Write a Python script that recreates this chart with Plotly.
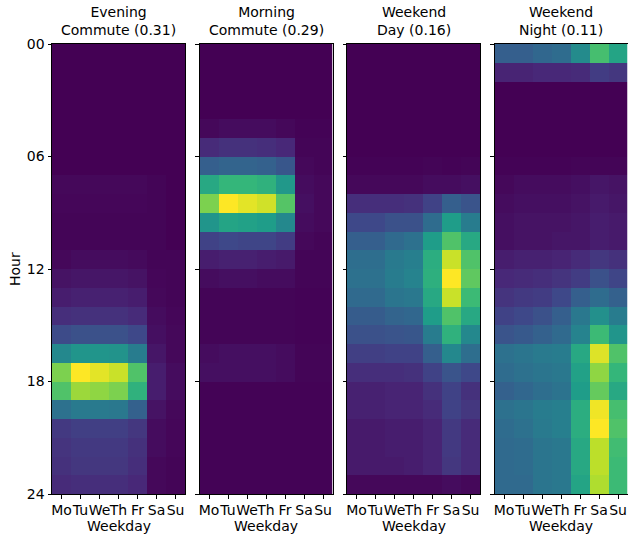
import plotly.graph_objects as go

days = ["Mo", "Tu", "We", "Th", "Fr", "Sa", "Su"]
hour_ticks = [0, 6, 12, 18, 24]
hour_labels = ["00", "06", "12", "18", "24"]
titles = ["Evening<br>Commute (0.31)", "Morning<br>Commute (0.29)",
          "Weekend<br>Day (0.16)", "Weekend<br>Night (0.11)"]

# rows = hours 0..23, columns = Mo..Su
evening = [
    [0.00, 0.00, 0.00, 0.00, 0.00, 0.00, 0.00],
    [0.00, 0.00, 0.00, 0.00, 0.00, 0.00, 0.00],
    [0.00, 0.00, 0.00, 0.00, 0.00, 0.00, 0.00],
    [0.00, 0.00, 0.00, 0.00, 0.00, 0.00, 0.00],
    [0.00, 0.00, 0.00, 0.00, 0.00, 0.00, 0.00],
    [0.00, 0.00, 0.00, 0.00, 0.00, 0.00, 0.00],
    [0.00, 0.00, 0.00, 0.00, 0.00, 0.00, 0.00],
    [0.02, 0.02, 0.02, 0.02, 0.02, 0.01, 0.00],
    [0.015, 0.015, 0.015, 0.015, 0.015, 0.01, 0.00],
    [0.01, 0.01, 0.01, 0.01, 0.01, 0.01, 0.00],
    [0.01, 0.01, 0.01, 0.01, 0.01, 0.01, 0.00],
    [0.02, 0.03, 0.03, 0.03, 0.025, 0.01, 0.01],
    [0.05, 0.06, 0.06, 0.06, 0.05, 0.015, 0.01],
    [0.08, 0.09, 0.09, 0.09, 0.08, 0.02, 0.01],
    [0.13, 0.14, 0.14, 0.14, 0.12, 0.03, 0.015],
    [0.23, 0.25, 0.25, 0.25, 0.22, 0.04, 0.02],
    [0.47, 0.52, 0.52, 0.51, 0.42, 0.06, 0.02],
    [0.80, 1.00, 0.96, 0.92, 0.72, 0.08, 0.03],
    [0.72, 0.85, 0.83, 0.80, 0.64, 0.08, 0.03],
    [0.37, 0.41, 0.41, 0.40, 0.31, 0.05, 0.02],
    [0.17, 0.19, 0.19, 0.19, 0.16, 0.03, 0.015],
    [0.15, 0.17, 0.17, 0.17, 0.14, 0.03, 0.015],
    [0.14, 0.16, 0.16, 0.16, 0.13, 0.02, 0.01],
    [0.12, 0.13, 0.13, 0.13, 0.11, 0.02, 0.01],
]

morning = [
    [0.00, 0.00, 0.00, 0.00, 0.00, 0.00, 0.00],
    [0.00, 0.00, 0.00, 0.00, 0.00, 0.00, 0.00],
    [0.00, 0.00, 0.00, 0.00, 0.00, 0.00, 0.00],
    [0.00, 0.00, 0.00, 0.00, 0.00, 0.00, 0.00],
    [0.02, 0.03, 0.03, 0.03, 0.02, 0.005, 0.005],
    [0.12, 0.14, 0.14, 0.13, 0.11, 0.01, 0.01],
    [0.30, 0.32, 0.32, 0.31, 0.27, 0.02, 0.01],
    [0.60, 0.66, 0.66, 0.64, 0.53, 0.03, 0.02],
    [0.80, 1.00, 0.96, 0.93, 0.73, 0.04, 0.02],
    [0.52, 0.58, 0.57, 0.55, 0.47, 0.03, 0.02],
    [0.20, 0.22, 0.21, 0.21, 0.18, 0.02, 0.01],
    [0.08, 0.09, 0.09, 0.08, 0.07, 0.01, 0.01],
    [0.03, 0.04, 0.04, 0.03, 0.03, 0.01, 0.01],
    [0.01, 0.01, 0.01, 0.01, 0.01, 0.005, 0.005],
    [0.01, 0.01, 0.01, 0.01, 0.01, 0.005, 0.005],
    [0.01, 0.01, 0.01, 0.01, 0.01, 0.005, 0.005],
    [0.03, 0.04, 0.04, 0.04, 0.03, 0.01, 0.01],
    [0.04, 0.04, 0.04, 0.04, 0.03, 0.01, 0.01],
    [0.005, 0.005, 0.005, 0.005, 0.005, 0.005, 0.005],
    [0.005, 0.005, 0.005, 0.005, 0.005, 0.005, 0.005],
    [0.005, 0.005, 0.005, 0.005, 0.005, 0.005, 0.005],
    [0.005, 0.005, 0.005, 0.005, 0.005, 0.005, 0.005],
    [0.005, 0.005, 0.005, 0.005, 0.005, 0.005, 0.005],
    [0.005, 0.005, 0.005, 0.005, 0.005, 0.005, 0.005],
]

weekend_day = [
    [0.00, 0.00, 0.00, 0.00, 0.00, 0.00, 0.00],
    [0.00, 0.00, 0.00, 0.00, 0.00, 0.00, 0.00],
    [0.00, 0.00, 0.00, 0.00, 0.00, 0.00, 0.00],
    [0.00, 0.00, 0.00, 0.00, 0.00, 0.00, 0.00],
    [0.00, 0.00, 0.00, 0.00, 0.00, 0.00, 0.00],
    [0.00, 0.00, 0.00, 0.00, 0.00, 0.00, 0.00],
    [0.005, 0.005, 0.005, 0.005, 0.01, 0.005, 0.01],
    [0.02, 0.02, 0.02, 0.02, 0.03, 0.03, 0.04],
    [0.13, 0.13, 0.13, 0.14, 0.20, 0.30, 0.26],
    [0.22, 0.22, 0.25, 0.25, 0.35, 0.55, 0.42],
    [0.30, 0.30, 0.34, 0.37, 0.55, 0.72, 0.60],
    [0.36, 0.36, 0.41, 0.43, 0.62, 0.92, 0.72],
    [0.37, 0.37, 0.42, 0.45, 0.63, 1.00, 0.75],
    [0.34, 0.34, 0.39, 0.40, 0.60, 0.92, 0.68],
    [0.29, 0.29, 0.32, 0.33, 0.55, 0.72, 0.60],
    [0.25, 0.25, 0.26, 0.27, 0.42, 0.64, 0.47],
    [0.19, 0.19, 0.20, 0.20, 0.30, 0.47, 0.36],
    [0.13, 0.13, 0.13, 0.14, 0.20, 0.26, 0.22],
    [0.09, 0.09, 0.10, 0.10, 0.14, 0.20, 0.14],
    [0.09, 0.09, 0.10, 0.10, 0.12, 0.20, 0.16],
    [0.07, 0.07, 0.08, 0.08, 0.10, 0.17, 0.12],
    [0.07, 0.07, 0.08, 0.08, 0.10, 0.17, 0.12],
    [0.07, 0.07, 0.07, 0.08, 0.10, 0.16, 0.12],
    [0.02, 0.02, 0.02, 0.02, 0.02, 0.03, 0.02],
]

weekend_night = [
    [0.30, 0.30, 0.33, 0.35, 0.48, 0.70, 0.58],
    [0.10, 0.10, 0.11, 0.11, 0.12, 0.18, 0.16],
    [0.00, 0.00, 0.00, 0.00, 0.00, 0.00, 0.00],
    [0.00, 0.00, 0.00, 0.00, 0.00, 0.00, 0.00],
    [0.00, 0.00, 0.00, 0.00, 0.00, 0.00, 0.00],
    [0.00, 0.00, 0.00, 0.00, 0.00, 0.00, 0.00],
    [0.005, 0.005, 0.005, 0.005, 0.01, 0.01, 0.01],
    [0.02, 0.03, 0.03, 0.03, 0.04, 0.06, 0.05],
    [0.03, 0.04, 0.04, 0.04, 0.05, 0.07, 0.06],
    [0.04, 0.05, 0.05, 0.05, 0.06, 0.08, 0.07],
    [0.04, 0.05, 0.05, 0.06, 0.06, 0.08, 0.07],
    [0.08, 0.09, 0.09, 0.10, 0.12, 0.16, 0.14],
    [0.11, 0.12, 0.13, 0.15, 0.18, 0.25, 0.21],
    [0.15, 0.17, 0.18, 0.22, 0.30, 0.35, 0.31],
    [0.20, 0.22, 0.25, 0.30, 0.40, 0.50, 0.42],
    [0.26, 0.28, 0.31, 0.34, 0.45, 0.68, 0.52],
    [0.37, 0.39, 0.41, 0.42, 0.60, 0.95, 0.72],
    [0.35, 0.37, 0.39, 0.40, 0.57, 0.83, 0.66],
    [0.31, 0.33, 0.36, 0.38, 0.55, 0.76, 0.60],
    [0.37, 0.39, 0.42, 0.43, 0.62, 0.98, 0.70],
    [0.35, 0.37, 0.41, 0.43, 0.62, 1.00, 0.72],
    [0.34, 0.35, 0.39, 0.40, 0.60, 0.90, 0.69],
    [0.34, 0.35, 0.39, 0.40, 0.60, 0.90, 0.68],
    [0.34, 0.34, 0.39, 0.40, 0.58, 0.88, 0.68],
]

panels = [evening, morning, weekend_day, weekend_night]

W, H = 628, 536
px_x = [(52, 185), (199.5, 332.5), (347, 480), (494.5, 627.5)]
top_px, bot_px = 44, 494
ydom = [1 - bot_px / H, 1 - top_px / H]
FONT = "DejaVu Sans"
TXT = dict(family=FONT, size=14, color="black")

fig = go.Figure()
hours_c = [h + 0.5 for h in range(24)]
layout = dict(
    width=W, height=H,
    margin=dict(l=0, r=0, t=0, b=0),
    paper_bgcolor="white", plot_bgcolor="white",
    font=TXT,
    showlegend=False,
    annotations=[],
)

for i, z in enumerate(panels):
    n = "" if i == 0 else str(i + 1)
    zmax = max(max(r) for r in z)
    fig.add_trace(go.Heatmap(
        z=z, x=list(range(7)), y=hours_c,
        colorscale="Viridis", zmin=0, zmax=zmax, showscale=False,
        xaxis="x" + n, yaxis="y" + n, hoverinfo="skip",
    ))
    x0, x1 = px_x[i]
    layout["xaxis" + n] = dict(
        domain=[x0 / W, x1 / W], anchor="y" + n,
        range=[-0.5, 6.5], tickvals=list(range(7)), ticktext=days,
        tickangle=0,
        ticks="outside", ticklen=3.5, tickwidth=1, tickcolor="black",
        showline=True, mirror=True, linecolor="black", linewidth=1,
        showgrid=False, zeroline=False, automargin=False,
        tickfont=TXT,
    )
    layout["yaxis" + n] = dict(
        domain=ydom, anchor="x" + n,
        range=[24, 0], tickvals=hour_ticks, ticktext=hour_labels,
        ticks="outside", ticklen=3.5, tickwidth=1, tickcolor="black",
        showline=True, mirror=True, linecolor="black", linewidth=1,
        showgrid=False, zeroline=False, automargin=False,
        showticklabels=(i == 0),
        tickfont=TXT,
    )
    layout["annotations"].append(dict(
        text=titles[i], x=(x0 + x1) / 2 / W, y=ydom[1], xref="paper", yref="paper",
        xanchor="center", yanchor="bottom", yshift=4, showarrow=False,
        font=TXT, align="center",
    ))
    layout["annotations"].append(dict(
        text="Weekday", x=(x0 + x1) / 2 / W, y=1 - 526 / H, xref="paper", yref="paper",
        xanchor="center", yanchor="middle", showarrow=False, font=TXT,
    ))

layout["annotations"].append(dict(
    text="Hour", x=15 / W, y=1 - 269 / H, xref="paper", yref="paper",
    xanchor="center", yanchor="middle", textangle=-90, showarrow=False, font=TXT,
))

fig.update_layout(**layout)
fig.write_html("out.html")
